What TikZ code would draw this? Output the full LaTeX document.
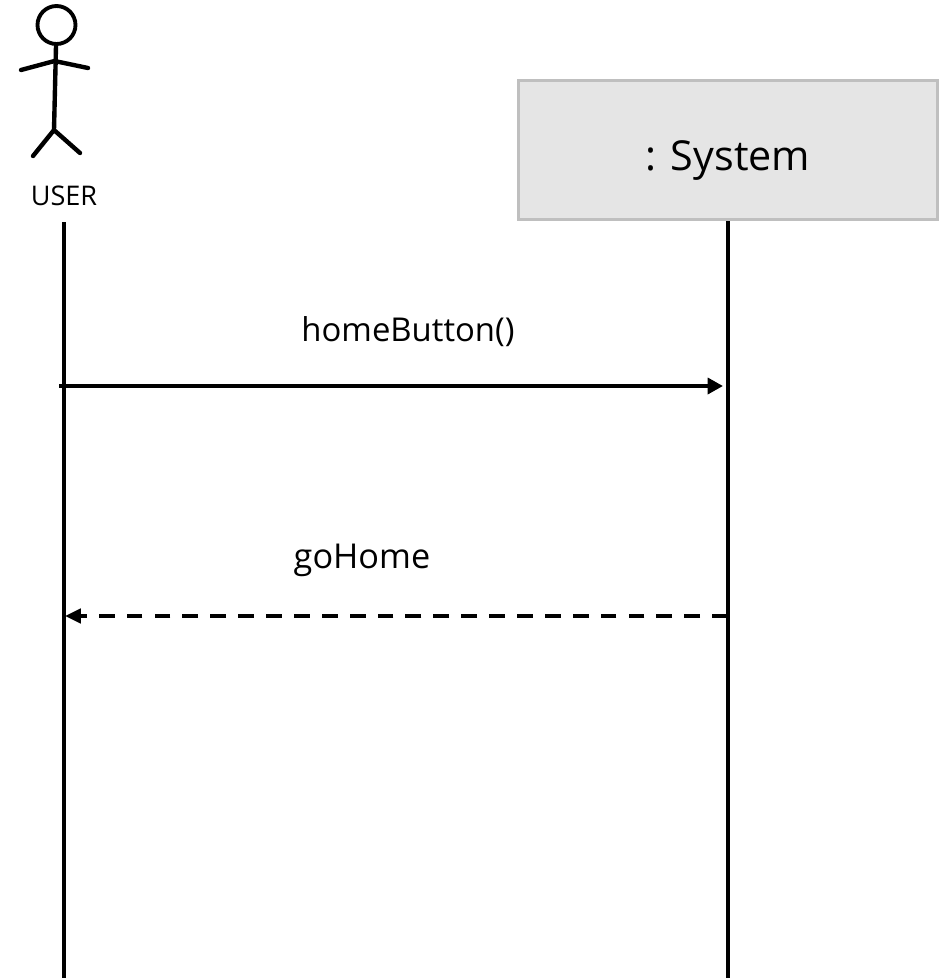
\documentclass[tikz,border=0pt]{standalone}
\usepackage{fontspec}
\setmainfont{Open Sans}
\usetikzlibrary{arrows.meta}

\begin{document}
\begin{tikzpicture}[x=0.02cm,y=-0.02cm]
	\tikzstyle{actor-line}=[line width=2.5pt,line cap=round]
	\tikzstyle{lifeline}=[line width=2.3pt]
	\tikzstyle{object-box}=[draw=black!25,fill=black!10,line width=1.7pt,minimum width=8.4cm,minimum height=2.8cm]
	\tikzstyle{call}=[-{Triangle[length=8.7pt,width=9pt]},line width=2.3pt]
	\tikzstyle{reply}=[-{Triangle[length=9pt,width=8pt]},line width=2.3pt,dash pattern=on 9pt off 6.87pt]
	\useasboundingbox (0,0) rectangle (948,978);
	% actor
	\node [circle,draw,line width=2.2pt,minimum size=0.76cm,inner sep=0pt] at (56.5,25) (head) {};
	\coordinate (hip) at (54,130);
	\coordinate (neck) at (54.5,61);
	\coordinate (hand-l) at (21,70);
	\coordinate (hand-r) at (88,68);
	\coordinate (foot-l) at (33,156);
	\coordinate (foot-r) at (80,153);
	\draw [actor-line] (head) -- (hip);
	\draw [actor-line] (hand-l) -- (neck) -- (hand-r);
	\draw [actor-line] (foot-l) -- (hip) -- (foot-r);
	\node at (64,196) (user) {\fontsize{15.4}{18}\selectfont USER};
	% system
	\node [object-box] at (728,150) (system) {\raisebox{-11.6pt}[0pt][0pt]{\fontsize{23.5}{28}\selectfont : System}};
	% lifelines
	\coordinate (user-top) at (64,222);
	\coordinate (user-end) at (64,978);
	\coordinate (system-end) at (728,978);
	\draw [lifeline] (user-top) -- (user-end);
	\draw [lifeline] (system.south) -- (system-end);
	% messages
	\coordinate (call-a) at (59,386);
	\coordinate (call-b) at (723,386);
	\coordinate (reply-a) at (728,616);
	\coordinate (reply-b) at (65,616);
	\draw [call] (call-a) -- (call-b);
	\draw [reply] (reply-a) -- (reply-b);
	\node at (408,332) (call-label) {\fontsize{18.7}{22}\selectfont homeButton()};
	\node at (362,560) (reply-label) {\fontsize{19.5}{23}\selectfont goHome};
\end{tikzpicture}
\end{document}
